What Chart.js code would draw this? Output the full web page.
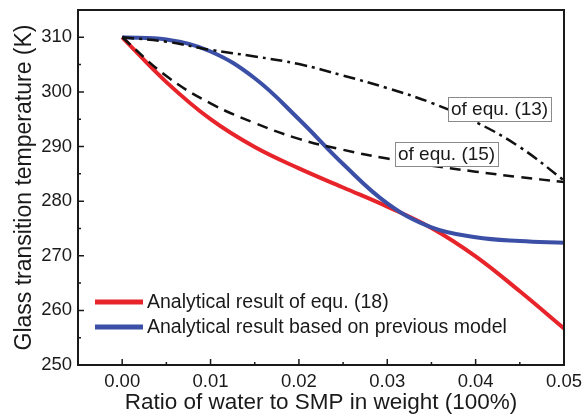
<!DOCTYPE html>
<html>
<head>
<meta charset="utf-8">
<script src="https://cdn.jsdelivr.net/npm/chart.js@4/dist/chart.umd.min.js"></script>
<style>
  html, body { margin: 0; padding: 0; background: #fff; }
  #wrap { width: 582px; height: 416px; }
</style>
</head>
<body>
<div id="wrap"><canvas id="myChart" width="582" height="416"></canvas></div>
<script>
const ratio = [0, 0.005, 0.01, 0.015, 0.02, 0.025, 0.03, 0.035, 0.04, 0.045, 0.05];
const tgEqu18 = [310, 301.8, 295.0, 289.9, 286.0, 282.5, 279.0, 275.1, 269.9, 263.5, 256.7];
const tgPrevious = [310, 309.6, 307.4, 302.5, 295.0, 286.8, 279.6, 275.2, 273.4, 272.7, 272.4];
const tgEqu13 = [310, 309.2, 307.7, 306.5, 305.1, 303.0, 300.7, 298.0, 294.5, 289.9, 283.8];
const tgEqu15 = [310, 302.9, 297.9, 294.3, 291.4, 289.4, 287.8, 286.5, 285.4, 284.4, 283.5];

const xTicks = [0, 0.01, 0.02, 0.03, 0.04, 0.05];
const yTicks = [250, 260, 270, 280, 290, 300, 310];

const legendNames = ['Analytical result of equ. (18)', 'Analytical result based on previous model'];
const curveNotes = [
  { text: 'of equ. (13)', x: 0.0369, y: 296.9 },
  { text: 'of equ. (15)', x: 0.0309, y: 288.6 }
];

function pts(ys) {
  return ratio.map((x, i) => ({ x: x, y: ys[i] }));
}

const FONT = 'Arial, "Liberation Sans", sans-serif';

// frame, inward ticks, legend and curve notes
const decor = {
  id: 'decor',
  afterDatasetsDraw(chart) {
    const ctx = chart.ctx;
    const a = chart.chartArea;
    const xs = chart.scales.x;
    const ys = chart.scales.y;
    ctx.save();

    // curve notes
    ctx.font = '19px ' + FONT;
    ctx.textBaseline = 'middle';
    curveNotes.forEach(n => {
      const px = Math.round(xs.getPixelForValue(n.x));
      const py = Math.round(ys.getPixelForValue(n.y));
      const w = Math.round(ctx.measureText(n.text).width) + 6;
      const h = 24;
      ctx.fillStyle = '#fff';
      ctx.fillRect(px, py - h / 2, w, h);
      ctx.strokeStyle = '#8a8a8a';
      ctx.lineWidth = 1;
      ctx.strokeRect(px + 0.5, py - h / 2 + 0.5, w, h);
      ctx.fillStyle = '#1a1a1a';
      ctx.fillText(n.text, px + 3, py + 1);
    });

    // frame
    ctx.strokeStyle = '#1a1a1a';
    ctx.lineWidth = 2;
    ctx.strokeRect(a.left, a.top, a.right - a.left, a.bottom - a.top);

    // inward ticks, major and minor
    ctx.lineWidth = 1.5;
    ctx.beginPath();
    for (let k = 0; k <= 10; k++) {
      const px = xs.getPixelForValue(k * 0.005);
      ctx.moveTo(px, a.bottom);
      ctx.lineTo(px, a.bottom - (k % 2 === 0 ? 6 : 3));
    }
    for (let v = 255; v <= 315; v += 5) {
      const py = ys.getPixelForValue(v);
      ctx.moveTo(a.left, py);
      ctx.lineTo(a.left + (v % 10 === 0 ? 6 : 3), py);
    }
    ctx.stroke();

    // legend
    ctx.font = '19.5px ' + FONT;
    ctx.textBaseline = 'middle';
    const ly = [302, 327];
    [0, 1].forEach(i => {
      const ds = chart.data.datasets[i];
      ctx.strokeStyle = ds.borderColor;
      ctx.lineWidth = 5;
      ctx.beginPath();
      ctx.moveTo(95, ly[i]);
      ctx.lineTo(143, ly[i]);
      ctx.stroke();
      ctx.fillStyle = '#1a1a1a';
      ctx.fillText(legendNames[i], 147, ly[i] + 1);
    });
    ctx.restore();
  }
};

new Chart(document.getElementById('myChart'), {
  type: 'line',
  data: {
    datasets: [
      {
        label: legendNames[0],
        data: pts(tgEqu18),
        borderColor: '#e8242b',
        borderWidth: 4,
        pointRadius: 0,
        tension: 0.4,
        order: 3
      },
      {
        label: legendNames[1],
        data: pts(tgPrevious),
        borderColor: '#3b4fa6',
        borderWidth: 4,
        pointRadius: 0,
        tension: 0.4,
        order: 2
      },
      {
        label: 'equ. (13)',
        data: pts(tgEqu13),
        borderColor: '#111',
        borderWidth: 2.5,
        borderDash: [12, 5, 3, 5],
        pointRadius: 0,
        tension: 0.4,
        order: 1
      },
      {
        label: 'equ. (15)',
        data: pts(tgEqu15),
        borderColor: '#111',
        borderWidth: 2.5,
        borderDash: [11, 7],
        pointRadius: 0,
        tension: 0.4,
        order: 0
      }
    ]
  },
  options: {
    responsive: false,
    animation: false,
    layout: { padding: { top: 10, right: 18, left: 0, bottom: 0 } },
    plugins: { legend: { display: false }, tooltip: { enabled: false } },
    scales: {
      x: {
        type: 'linear',
        min: -0.005,
        max: 0.05,
        afterBuildTicks: s => { s.ticks = xTicks.map(v => ({ value: v })); },
        afterFit: s => { s.height = 51; s.paddingLeft = 0; s.paddingRight = 0; },
        grid: { display: false, drawTicks: false },
        border: { display: false },
        ticks: {
          color: '#1a1a1a',
          font: { family: FONT, size: 18.5 },
          padding: 6,
          maxRotation: 0,
          callback: v => v.toFixed(2)
        },
        title: {
          display: true,
          text: 'Ratio of water to SMP in weight (100%)',
          color: '#1a1a1a',
          font: { family: FONT, size: 22.5 },
          padding: 0
        }
      },
      y: {
        min: 250,
        max: 315,
        afterBuildTicks: s => { s.ticks = yTicks.map(v => ({ value: v })); },
        afterFit: s => { s.width = 78; s.paddingTop = 0; s.paddingBottom = 0; },
        grid: { display: false, drawTicks: false },
        border: { display: false },
        ticks: {
          color: '#1a1a1a',
          font: { family: FONT, size: 18.5 },
          padding: 6
        },
        title: {
          display: true,
          text: 'Glass transition temperature (K)',
          color: '#1a1a1a',
          font: { family: FONT, size: 23 },
          padding: { top: 11, bottom: 0 }
        }
      }
    }
  },
  plugins: [decor]
});
</script>
</body>
</html>
